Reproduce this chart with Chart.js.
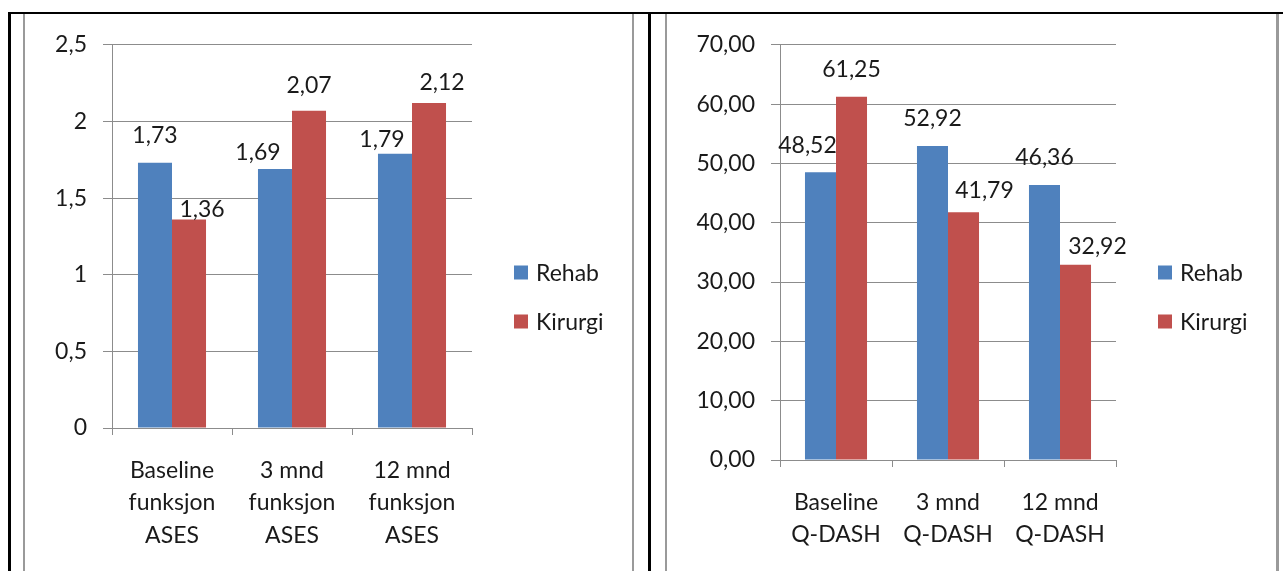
<!DOCTYPE html>
<html>
<head>
<meta charset="utf-8">
<script src="https://cdn.jsdelivr.net/npm/chart.js@4.4.1/dist/chart.umd.min.js"></script>
<style>
  html, body { margin: 0; padding: 0; background: #fff; }
  body { width: 1283px; height: 571px; position: relative; overflow: hidden; }
  .rule { position: absolute; background: #000; }
  .panel { position: absolute; box-sizing: border-box; border-left: 2px solid #9a9a9a; border-right: 2px solid #9a9a9a; }
  canvas { position: absolute; }
</style>
</head>
<body>
<div class="rule" style="left:8px; top:12px; width:1275px; height:2px;"></div>
<div class="rule" style="left:8px; top:12px; width:3px; height:559px;"></div>
<div class="rule" style="left:648px; top:12px; width:3px; height:559px;"></div>
<div class="panel" style="left:23px; top:14px; width:611px; height:557px;"></div>
<div class="panel" style="left:665px; top:14px; width:614px; height:557px; border-right-width:3px;"></div>

<div style="position:absolute; left:26px; top:15px; width:606px; height:556px;"><canvas id="asesChart"></canvas></div>
<div style="position:absolute; left:668px; top:15px; width:607px; height:556px;"><canvas id="dashChart"></canvas></div>

<script>
// ASES function score (left panel)
const asesCategories = [
  ['Baseline', 'funksjon', 'ASES'],
  ['3 mnd', 'funksjon', 'ASES'],
  ['12 mnd', 'funksjon', 'ASES']
];
const asesRehab = [1.73, 1.69, 1.79];
const asesKirurgi = [1.36, 2.07, 2.12];
const asesTicks = ['0', '0,5', '1', '1,5', '2', '2,5'];

// Q-DASH score (right panel)
const dashCategories = [
  ['Baseline', 'Q-DASH'],
  ['3 mnd', 'Q-DASH'],
  ['12 mnd', 'Q-DASH']
];
const dashRehab = [48.52, 52.92, 46.36];
const dashKirurgi = [61.25, 41.79, 32.92];
const dashTicks = ['0,00', '10,00', '20,00', '30,00', '40,00', '50,00', '60,00', '70,00'];

const seriesNames = ['Rehab', 'Kirurgi'];
const seriesColors = ['#4F81BD', '#C0504D'];

const FONT = { family: 'Lato', size: 23 };
const TEXT = '#1a1a1a';
const GRID = '#8c8c8c';

const fmt = v => v.toFixed(2).replace('.', ',');

// Value labels above each bar, with small per-label nudges (dx, dy in px)
const valueLabels = {
  id: 'valueLabels',
  afterDatasetsDraw(chart, args, opts) {
    const ctx = chart.ctx;
    ctx.save();
    ctx.font = `${FONT.size}px ${FONT.family}`;
    ctx.fillStyle = TEXT;
    ctx.textAlign = 'center';
    ctx.textBaseline = 'middle';
    chart.data.datasets.forEach((ds, di) => {
      chart.getDatasetMeta(di).data.forEach((bar, i) => {
        const [dx, dy] = opts.nudge[di][i];
        ctx.fillText(fmt(ds.data[i]), bar.x + dx, bar.y + dy);
      });
    });
    ctx.restore();
  }
};

// Legend at the right of the plot, rows centred on the canvas height
const sideLegend = {
  id: 'sideLegend',
  afterDraw(chart, args, opts) {
    const ctx = chart.ctx;
    const x = chart.chartArea.right + opts.gap;
    const mid = chart.height / 2 + opts.shift;
    const n = chart.data.datasets.length;
    ctx.save();
    ctx.font = `${FONT.size}px ${FONT.family}`;
    ctx.textAlign = 'left';
    ctx.textBaseline = 'middle';
    chart.data.datasets.forEach((ds, i) => {
      const cy = mid + (i - (n - 1) / 2) * opts.spacing;
      ctx.fillStyle = ds.backgroundColor;
      ctx.fillRect(x, cy - opts.box / 2, opts.box, opts.box);
      ctx.fillStyle = TEXT;
      ctx.fillText(ds.label, x + opts.box + 8, cy + 1);
    });
    ctx.restore();
  }
};

function makeChart(id, cfg) {
  return new Chart(document.getElementById(id), {
    type: 'bar',
    data: {
      labels: cfg.categories,
      datasets: [
        { label: seriesNames[0], data: cfg.rehab, backgroundColor: seriesColors[0] },
        { label: seriesNames[1], data: cfg.kirurgi, backgroundColor: seriesColors[1] }
      ]
    },
    options: {
      responsive: true,
      maintainAspectRatio: false,
      animation: false,
      datasets: { bar: { categoryPercentage: cfg.catPct, barPercentage: 1, borderWidth: 0 } },
      layout: { padding: { left: 0, right: cfg.padRight, top: 29, bottom: 0 } },
      plugins: {
        legend: { display: false },
        tooltip: { enabled: false },
        valueLabels: { nudge: cfg.nudge },
        sideLegend: { gap: 42, shift: 4, spacing: 49, box: 14 }
      },
      scales: {
        x: {
          afterFit: s => { s.height = cfg.xHeight; },
          grid: { display: true, drawOnChartArea: false, drawTicks: true, tickLength: 7, color: GRID, offset: true },
          border: { display: true, color: GRID, width: 1 },
          ticks: { color: TEXT, font: { ...FONT, lineHeight: 1.42 }, padding: 19, maxRotation: 0, autoSkip: false }
        },
        y: {
          min: 0, max: cfg.max,
          afterFit: s => { s.width = cfg.yWidth; },
          grid: { color: GRID, drawTicks: true, tickLength: 9 },
          border: { display: true, color: GRID, width: 1 },
          ticks: {
            stepSize: cfg.step, color: TEXT, font: FONT, padding: 16,
            callback: (v, i) => cfg.ticks[i]
          }
        }
      }
    },
    plugins: [valueLabels, sideLegend]
  });
}

makeChart('asesChart', {
  categories: asesCategories, rehab: asesRehab, kirurgi: asesKirurgi, ticks: asesTicks,
  max: 2.5, step: 0.5, catPct: 0.567, yWidth: 86, xHeight: 143, padRight: 160,
  nudge: [[[0, -27], [-17, -16], [-13, -14]], [[13, -10], [0, -25], [13, -20]]]
});

makeChart('dashChart', {
  categories: dashCategories, rehab: dashRehab, kirurgi: dashKirurgi, ticks: dashTicks,
  max: 70, step: 10, catPct: 0.554, yWidth: 112, xHeight: 111, padRight: 159,
  nudge: [[[-13, -27], [0, -28], [0, -27]], [[0, -27], [21, -22], [22, -18]]]
});
</script>
</body>
</html>
